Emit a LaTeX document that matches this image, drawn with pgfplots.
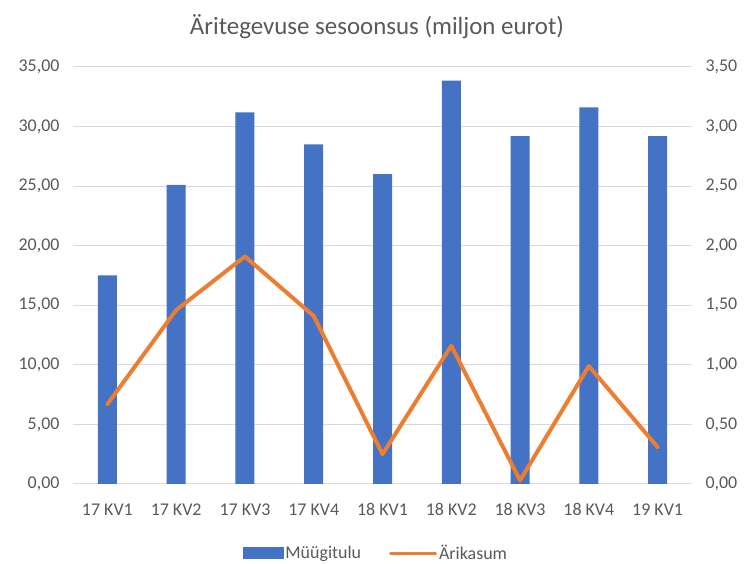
\documentclass[border=0pt]{standalone}
\usepackage{pgfplots}
\pgfplotsset{compat=1.18}
\usepackage{fontspec}
\setmainfont{Carlito}
\definecolor{barblue}{HTML}{4472C4}
\definecolor{lineorange}{HTML}{ED7D31}
\definecolor{txtgray}{HTML}{595959}
\definecolor{gridgray}{HTML}{D9D9D9}
\begin{document}
\begin{tikzpicture}[x=1bp,y=1bp]
\useasboundingbox (-73,-80) rectangle (673,484);
\pgfplotsset{
  common/.style={
    at={(0,0)}, anchor=south west,
    scale only axis, width=619bp, height=417bp,
    xmin=-0.5, xmax=8.5,
    axis line style={draw=none},
    major tick length=0pt,
    tick label style={font=\fontsize{18}{21}\selectfont, text=txtgray},
    /pgf/number format/assume math mode=true,
    /pgf/number format/fixed, /pgf/number format/fixed zerofill,
    /pgf/number format/precision=2, /pgf/number format/use comma,
  }
}
\begin{axis}[common,
  ymin=0, ymax=35, ytick={0,5,...,35},
  ymajorgrids, grid style={gridgray, line width=1bp},
  xtick={0,...,8},
  xticklabels={17 KV1,17 KV2,17 KV3,17 KV4,18 KV1,18 KV2,18 KV3,18 KV4,19 KV1},
  xticklabel style={yshift=-16bp},
  yticklabel style={xshift=-10bp},
]
\addplot[ybar, bar width=19bp, fill=barblue, draw=none] coordinates {
(0,17.5) (1,25.1) (2,31.2) (3,28.5) (4,26.0) (5,33.85) (6,29.2) (7,31.6) (8,29.2)};
\end{axis}
\begin{axis}[common,
  ymin=0, ymax=3.5, ytick={0,0.5,...,3.5},
  axis y line*=right, axis x line=none,
  xtick=\empty,
  yticklabel style={xshift=10bp},
  legend style={at={(0.4895,-0.1655)}, anchor=center, draw=none, fill=none,
    font=\fontsize{18}{21}\selectfont, text=txtgray, legend columns=2,
    /tikz/every even column/.append style={column sep=26bp}},
  legend cell align=left,
]
\addlegendimage{legend image code/.code={\fill[barblue] (0bp,-5.5bp) rectangle (40bp,5.5bp);}}
\addlegendentry{Müügitulu}
\addplot[lineorange, line width=4bp, line join=round, line cap=round,
  legend image code/.code={\draw[lineorange, line width=3bp] (0bp,0bp) -- (45bp,0bp);}]
  coordinates {
(0,0.67) (1,1.46) (2,1.91) (3,1.41) (4,0.25) (5,1.16) (6,0.03) (7,0.99) (8,0.31)};
\addlegendentry{Ärikasum}
\end{axis}
\node[text=txtgray, font=\fontsize{25}{30}\selectfont] at (304,457) {Äritegevuse sesoonsus (miljon eurot)};
\end{tikzpicture}
\end{document}
